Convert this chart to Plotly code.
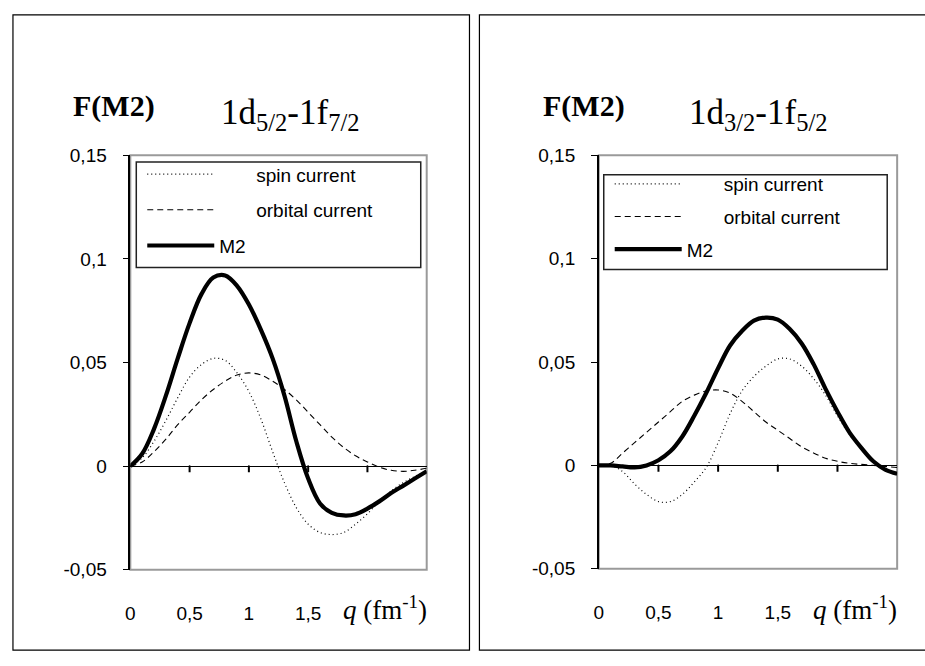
import plotly.graph_objects as go

# ---------------- data ----------------
q = [0.0, 0.1, 0.2, 0.3, 0.4, 0.5, 0.6, 0.7, 0.8, 0.9, 1.0, 1.1, 1.2,
     1.3, 1.4, 1.5, 1.6, 1.7, 1.8, 1.9, 2.0, 2.1, 2.2, 2.3, 2.4, 2.5]

# 1d5/2 - 1f7/2
d52_spin = [0.0, 0.004, 0.012, 0.022, 0.033, 0.043, 0.049, 0.052, 0.051,
            0.045, 0.036, 0.023, 0.007, -0.008, -0.020, -0.028, -0.032,
            -0.033, -0.032, -0.028, -0.023, -0.017, -0.012, -0.008,
            -0.005, -0.002]
d52_orbital = [0.0, 0.002, 0.007, 0.013, 0.020, 0.026, 0.032, 0.037, 0.041,
               0.044, 0.045, 0.044, 0.041, 0.037, 0.032, 0.026, 0.020,
               0.014, 0.009, 0.005, 0.002, -0.0005, -0.002, -0.0025,
               -0.002, -0.001]
d52_m2 = [0.0, 0.006, 0.018, 0.034, 0.052, 0.069, 0.083, 0.091, 0.092,
          0.087, 0.078, 0.066, 0.052, 0.034, 0.012, -0.006, -0.018,
          -0.0225, -0.0238, -0.0232, -0.0205, -0.017, -0.013, -0.0095,
          -0.006, -0.0025]

# 1d3/2 - 1f5/2
d32_spin = [0.0, 0.0, -0.003, -0.009, -0.014, -0.0175, -0.0175, -0.014,
            -0.008, -0.001, 0.011, 0.025, 0.036, 0.043, 0.048, 0.0515,
            0.0515, 0.048, 0.042, 0.034, 0.024, 0.015, 0.008, 0.002,
            -0.002, -0.004]
d32_orbital = [0.0, 0.001, 0.006, 0.011, 0.016, 0.021, 0.026, 0.031, 0.034,
               0.036, 0.0365, 0.035, 0.031, 0.026, 0.021, 0.017, 0.013,
               0.009, 0.006, 0.0035, 0.002, 0.001, 0.0005, 0.0, -0.0005,
               -0.001]
d32_m2 = [0.0, 0.0, -0.0005, -0.001, 0.0, 0.0025, 0.0068, 0.014, 0.024,
          0.035, 0.047, 0.058, 0.065, 0.070, 0.0715, 0.0705, 0.066, 0.059,
          0.049, 0.037, 0.026, 0.016, 0.0085, 0.002, -0.002, -0.004]

series_names = ["spin current", "orbital current", "M2"]
y_ticks = [-0.05, 0.0, 0.05, 0.1, 0.15]
y_ticktext = ["-0,05", "0", "0,05", "0,1", "0,15"]
x_ticks = [0.0, 0.5, 1.0, 1.5]
x_ticktext = ["0", "0,5", "1", "1,5"]
# small tick marks hanging below the F = 0 line
zero_ticks_q = [0.5, 1.0, 1.5, 2.0]
zero_ticks_base = [0.0, 0.0, 0.0, 0.0]
zero_tick_len = 0.003

# ---------------- geometry helpers ----------------
W, H = 925, 666


def px(x):
    return x / W


def py(y):
    return 1 - y / H


SANS = "Liberation Sans"
SERIF = "Liberation Serif"
BLACK = "#000000"

fig = go.Figure()

panels = [
    dict(xa="x", ya="y", legend="legend",
         data=(d52_spin, d52_orbital, d52_m2),
         xdom=[px(126), px(424)], ydom=[py(578), py(150)]),
    dict(xa="x2", ya="y2", legend="legend2",
         data=(d32_spin, d32_orbital, d32_m2),
         xdom=[px(597), px(897)], ydom=[py(577), py(150)]),
]

styles = [
    dict(color=BLACK, width=1.2, dash="1px,3px"),
    dict(color=BLACK, width=1.1, dash="6px,4px"),
    dict(color=BLACK, width=4.2),
]
pads = ["\u00a0" * 7, "\u00a0" * 7, ""]

for p in panels:
    for i, (vals, st) in enumerate(zip(p["data"], styles)):
        fig.add_trace(go.Scatter(
            x=q, y=vals, mode="lines",
            line=dict(shape="spline", smoothing=1.0, **st),
            name=pads[i] + series_names[i], xaxis=p["xa"], yaxis=p["ya"],
            legend=p["legend"], legendgroup=p["legend"] + str(i),
            hoverinfo="skip"))
    fig.add_trace(go.Scatter(
        x=zero_ticks_q, y=zero_ticks_base, mode="markers",
        marker=dict(size=2, color=BLACK),
        error_y=dict(type="data", symmetric=False,
                     array=[0.0] * len(zero_ticks_q),
                     arrayminus=[zero_tick_len] * len(zero_ticks_q),
                     width=0, thickness=2, color=BLACK),
        xaxis=p["xa"], yaxis=p["ya"], showlegend=False, hoverinfo="skip"))

layout = dict(
    width=W, height=H, autosize=False,
    margin=dict(l=0, r=0, t=0, b=0),
    paper_bgcolor="white", plot_bgcolor="white",
    showlegend=True,
    shapes=[], annotations=[],
)

for k, p in enumerate(panels):
    sx = "" if k == 0 else "2"
    layout["xaxis" + sx] = dict(
        domain=p["xdom"], anchor="y" + sx, range=[0, 2.5],
        tickmode="array", tickvals=x_ticks, ticktext=x_ticktext,
        ticks="outside", ticklen=26, tickcolor="rgba(255,255,255,0)",
        showline=False, showgrid=False, zeroline=False,
        tickfont=dict(family=SANS, size=19, color=BLACK), fixedrange=True)
    layout["yaxis" + sx] = dict(
        domain=p["ydom"], anchor="x" + sx, range=[-0.05, 0.15],
        tickmode="array", tickvals=y_ticks, ticktext=y_ticktext,
        ticks="outside", ticklen=6, tickcolor=BLACK, tickwidth=1,
        showline=True, linecolor=BLACK, linewidth=1.5,
        zeroline=True, zerolinecolor=BLACK, zerolinewidth=1,
        showgrid=False, ticklabelstandoff=12,
        tickfont=dict(family=SANS, size=19, color=BLACK), fixedrange=True)
    # grey plot-area frame
    layout["shapes"].append(dict(
        type="rect", xref="x" + sx + " domain", yref="y" + sx + " domain",
        x0=0, x1=1, y0=0, y1=1, line=dict(color="#9a9a9a", width=2),
        layer="below"))

# legends
legend_common = dict(
    bgcolor="rgba(0,0,0,0)", borderwidth=0, itemwidth=67,
    font=dict(family=SANS, size=19, color=BLACK),
    xanchor="left", yanchor="top", itemclick=False,
    itemdoubleclick=False)
layout["legend"] = dict(x=px(138), y=py(150), tracegroupgap=8,
                        **legend_common)
layout["legend2"] = dict(x=px(608), y=py(160), tracegroupgap=5,
                         **legend_common)

# legend boxes
for (x0, x1, y0, y1) in [(132, 418, 157, 266), (602, 887, 170, 268)]:
    layout["shapes"].append(dict(
        type="rect", xref="paper", yref="paper",
        x0=px(x0), x1=px(x1), y0=py(y1), y1=py(y0),
        line=dict(color="#222222", width=1.5)))

# outer panel frames
for (x0, x1) in [(8, 467), (477, 935)]:
    layout["shapes"].append(dict(
        type="rect", xref="paper", yref="paper",
        x0=px(x0), x1=px(x1), y0=py(661), y1=py(5),
        line=dict(color=BLACK, width=1.2)))

titles = [
    ("1d<sub>5/2</sub>-1f<sub>7/2</sub>", 287),
    ("1d<sub>3/2</sub>-1f<sub>5/2</sub>", 757),
]
for k, (t, cx) in enumerate(titles):
    sx = "" if k == 0 else "2"
    fx = 110 if k == 0 else 582
    layout["annotations"].append(dict(
        text="<b>F(M2)</b>", xref="paper", yref="paper", x=px(fx), y=py(99),
        xanchor="center", yanchor="middle", showarrow=False,
        font=dict(family=SERIF, size=30, color=BLACK)))
    layout["annotations"].append(dict(
        text=t, xref="paper", yref="paper", x=px(cx), y=py(108),
        xanchor="center", yanchor="middle", showarrow=False,
        font=dict(family=SERIF, size=35, color=BLACK)))
    layout["annotations"].append(dict(
        text="<i>q</i> (fm<sup>-1</sup>)", xref="x" + sx, yref="paper",
        x=2.15, y=py(617), xanchor="center", yanchor="middle",
        showarrow=False, font=dict(family=SERIF, size=27, color=BLACK)))

fig.update_layout(**layout)
fig.write_html("out.html")
